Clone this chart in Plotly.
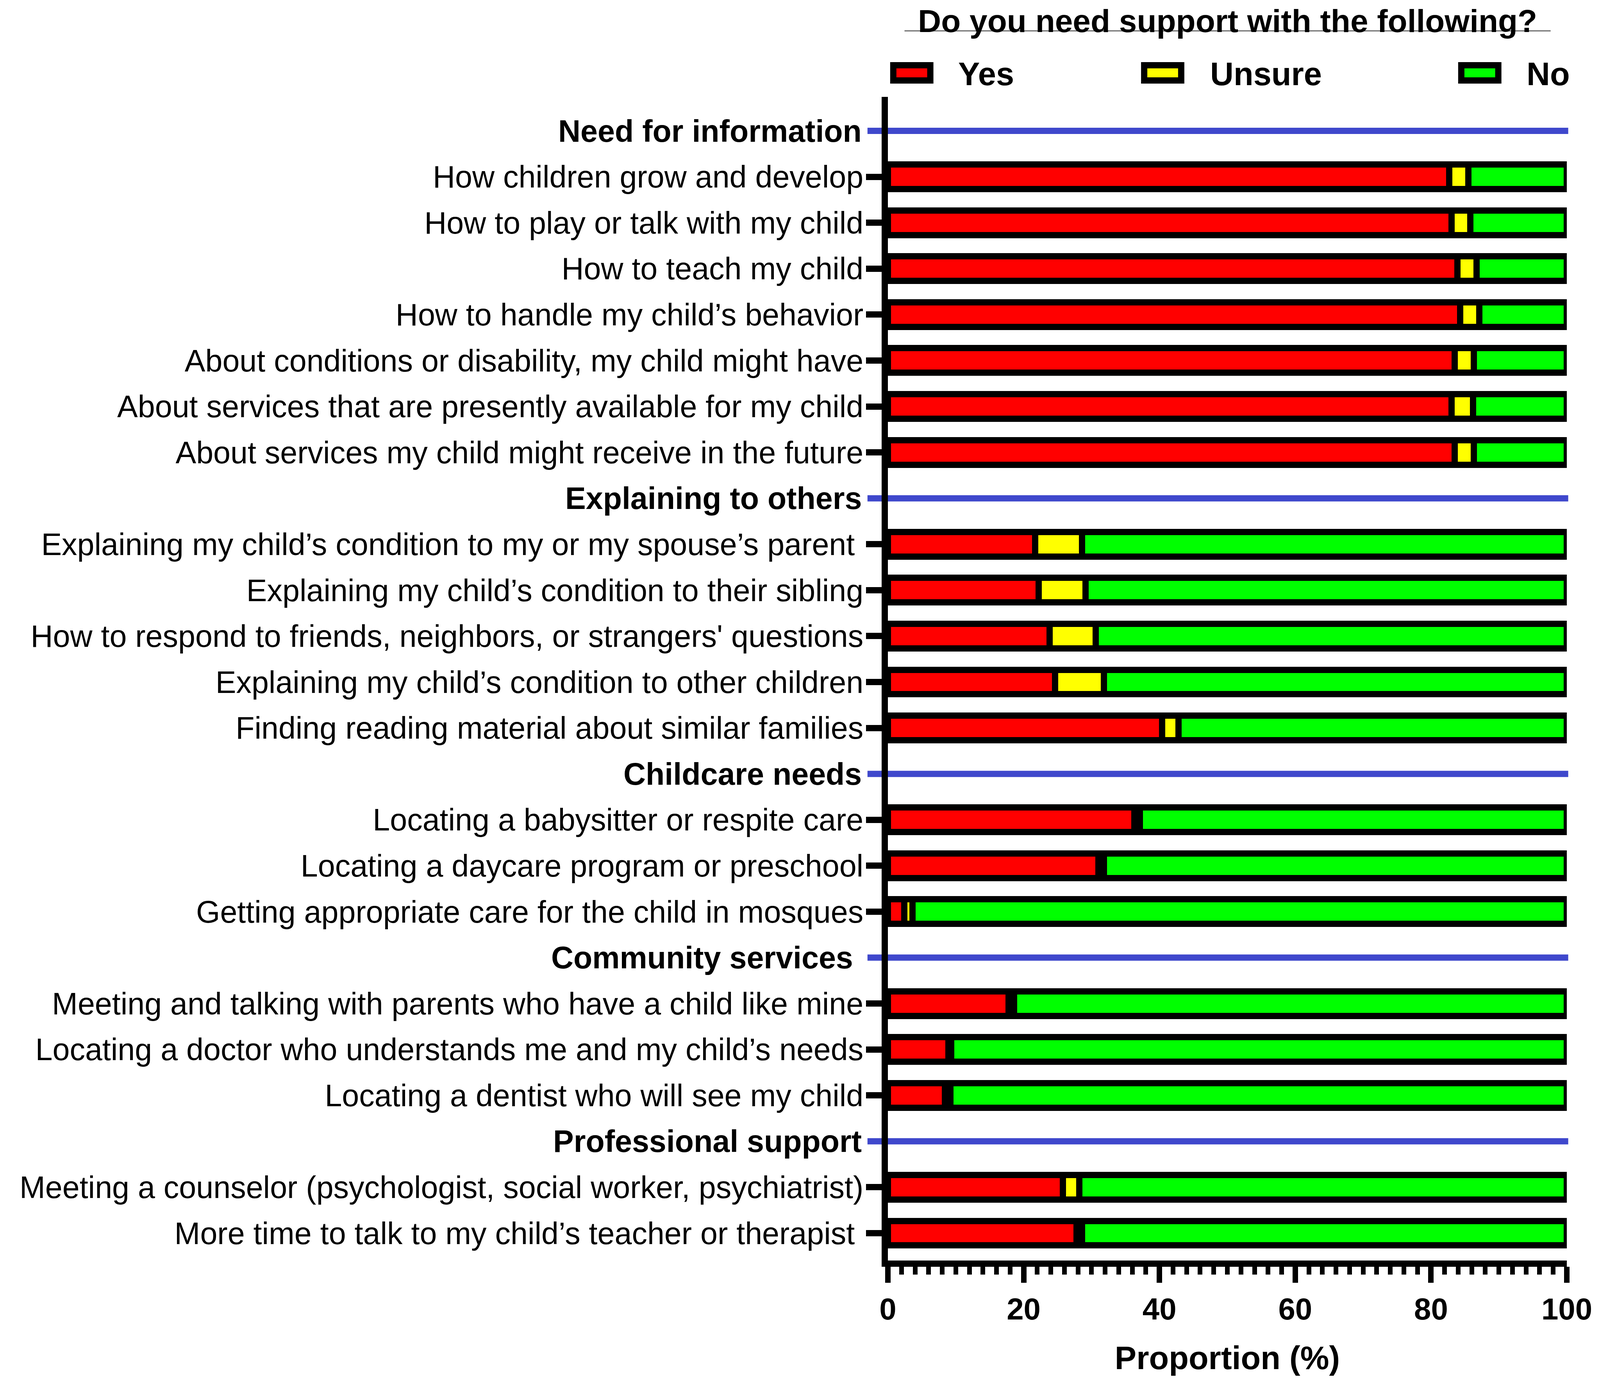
import plotly.graph_objects as go

# section headings and how many items sit under each one
sections = ["Need for information", "Explaining to others", "Childcare needs",
            "Community services\u00a0", "Professional support"]
section_sizes = [7, 5, 3, 3, 2]

items = [
    "How children grow and develop",
    "How to play or talk with my child",
    "How to teach my child",
    "How to handle my child\u2019s behavior",
    "About conditions or disability, my child might have",
    "About services that are presently available for my child",
    "About services my child might receive in the future",
    "Explaining my child\u2019s condition to my or my spouse\u2019s parent\u00a0",
    "Explaining my child\u2019s condition to their sibling",
    "How to respond to friends, neighbors, or strangers' questions",
    "Explaining my child\u2019s condition to other children",
    "Finding reading material about similar families",
    "Locating a babysitter or respite care",
    "Locating a daycare program or preschool",
    "Getting appropriate care for the child in mosques",
    "Meeting and talking with parents who have a child like mine",
    "Locating a doctor who understands me and my child\u2019s needs",
    "Locating a dentist who will see my child",
    "Meeting a counselor (psychologist, social worker, psychiatrist)",
    "More time to talk to my child\u2019s teacher or therapist\u00a0",
]

yes_pct = [82.7, 83.0, 83.9, 84.3, 83.5, 83.0, 83.5,
           21.7, 22.2, 23.8, 24.6, 40.4,
           36.3, 31.0, 2.4,
           17.8, 8.9, 8.4,
           25.8, 27.8]
unsure_pct = [2.8, 2.8, 2.8, 2.8, 2.8, 3.2, 2.8,
              6.9, 6.9, 6.8, 7.2, 2.4,
              0.8, 0.8, 1.2,
              0.8, 0.4, 0.8,
              2.4, 0.8]
no_pct = [14.5, 14.2, 13.3, 12.9, 13.7, 13.8, 13.7,
          71.4, 70.9, 69.4, 68.2, 57.2,
          62.9, 68.2, 96.4,
          81.4, 90.7, 90.8,
          71.8, 71.4]

series_names = ["Yes", "Unsure", "No"]
series_colors = ["#FF0000", "#FFFF00", "#00FF00"]
x_ticks = [0, 20, 40, 60, 80, 100]

# full row order: heading followed by its items
rows = []
header_idx = []
k = 0
for name, n in zip(sections, section_sizes):
    header_idx.append(len(rows))
    rows.append(name)
    rows.extend(items[k:k + n])
    k += n

FONT = "Liberation Sans, Arial, sans-serif"

# page is 4096 wide with an 8px body margin; positions below are measured on the
# 4252-wide reference and squeezed horizontally to fit
SX = 4096 / 4252
W, H = 4080, 3522


def fx(ref_x):
    return ref_x * SX - 8


def fy(ref_y):
    return ref_y - 8


L, R, T, B = round(fx(2360)), round(fx(4175)), fy(248), fy(3227)
PW, PH = R - L, B - T


def px_x(ref_x):
    return (fx(ref_x) - L) / PW


def px_y(ref_y):
    return (B - fy(ref_y)) / PH


fig = go.Figure()
for name, color, vals in zip(series_names, series_colors, [yes_pct, unsure_pct, no_pct]):
    fig.add_trace(go.Bar(
        x=vals, y=items, orientation="h", name=name,
        marker=dict(color=color, line=dict(color="black", width=16)),
        cliponaxis=False, showlegend=False, hoverinfo="x+y+name",
    ))

shapes = []
annotations = []

# blue separator lines and bold headings
for i in header_idx:
    shapes.append(dict(type="line", xref="paper", yref="y", layer="below",
                       x0=px_x(2305), x1=px_x(4179), y0=i, y1=i,
                       line=dict(color="#3F48CC", width=16)))
    annotations.append(dict(text=rows[i], xref="paper", yref="y", x=px_x(2292), y=i,
                            xanchor="right", yanchor="middle", showarrow=False,
                            font=dict(family=FONT, size=79, color="black", weight="bold")))

# hand-made legend across the top
sw_left = [2374, 3045, 3893]
txt_left = [2546, 3219, 4066]
for name, color, sx, tx in zip(series_names, series_colors, sw_left, txt_left):
    shapes.append(dict(type="rect", xref="paper", yref="paper",
                       x0=px_x(sx), x1=px_x(sx + 99), y0=px_y(206), y1=px_y(167),
                       fillcolor=color, line=dict(color="black", width=16)))
    annotations.append(dict(text=name, xref="paper", yref="paper", x=px_x(tx), y=px_y(190),
                            xanchor="left", yanchor="middle", showarrow=False,
                            font=dict(family=FONT, size=83, color="black", weight="bold")))

# title with its underline
annotations.append(dict(text="Do you need support with the following?", xref="paper", yref="paper",
                        x=px_x(3268), y=px_y(54), xanchor="center", yanchor="middle",
                        showarrow=False,
                        font=dict(family=FONT, size=82, color="black", weight="bold")))
shapes.append(dict(type="line", xref="paper", yref="paper",
                   x0=px_x(2404), x1=px_x(4132), y0=px_y(79), y1=px_y(79),
                   line=dict(color="#6B6B6B", width=3)))

fig.update_layout(
    width=W, height=H,
    margin=dict(l=L, r=W - R, t=T, b=H - B),
    barmode="stack", bargap=0.465,
    paper_bgcolor="white", plot_bgcolor="white",
    font=dict(family=FONT, color="black"),
    shapes=shapes, annotations=annotations,
)

fig.update_xaxes(
    range=[0, 100], tickvals=x_ticks, ticks="outside", ticklen=41, tickwidth=14,
    tickcolor="black", showline=True, linecolor="black", linewidth=16,
    showgrid=False, zeroline=False,
    tickfont=dict(family=FONT, size=78, color="black", weight="bold"),
    minor=dict(dtick=2, tick0=0, ticks="outside", ticklen=20, tickwidth=12,
               tickcolor="black", showgrid=False),
    title=dict(text="Proportion (%)", standoff=60,
               font=dict(family=FONT, size=83, color="black", weight="bold")),
)

fig.update_yaxes(
    type="category", categoryorder="array", categoryarray=rows,
    range=[24.595, -0.74], tickmode="array", tickvals=items, ticktext=items,
    ticks="outside", ticklen=40, tickwidth=16, tickcolor="black", ticklabelstandoff=-9,
    showline=True, linecolor="black", linewidth=16, showgrid=False, zeroline=False,
    tickfont=dict(family=FONT, size=79, color="black"),
)

fig.write_html("out.html")
